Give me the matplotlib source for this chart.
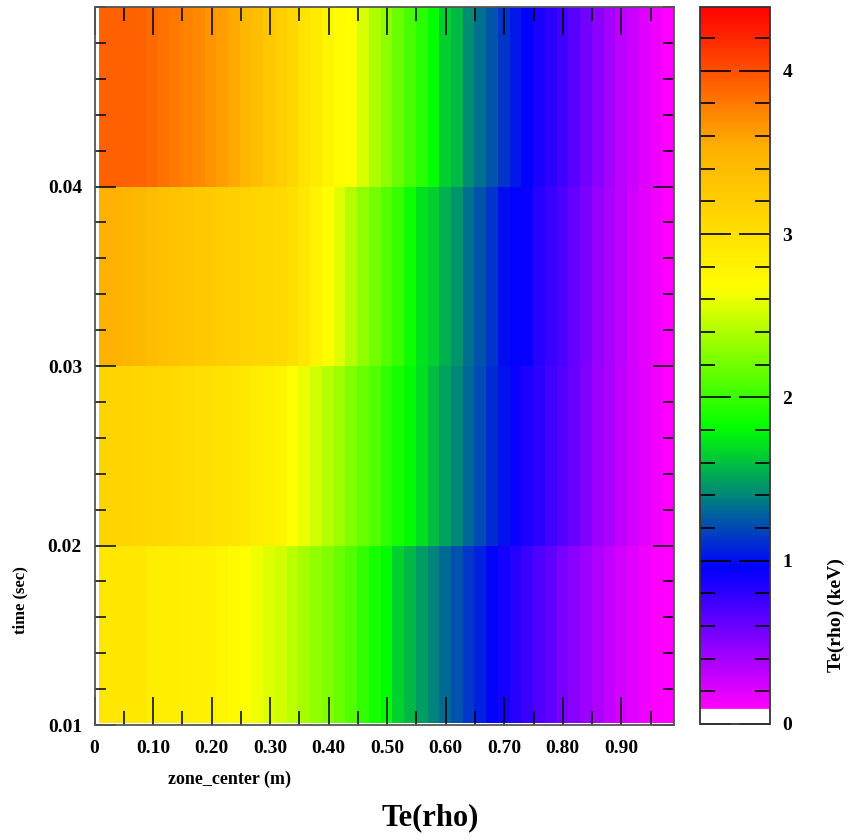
import numpy as np
import matplotlib
matplotlib.use("Agg")
import matplotlib.pyplot as plt
from matplotlib.colors import LinearSegmentedColormap, Normalize
from matplotlib.ticker import MultipleLocator, FuncFormatter

plt.rcParams['font.family'] = ['Liberation Serif', 'DejaVu Serif']
plt.rcParams['font.weight'] = 'bold'

# ---- data ----
zone_edges = np.linspace(0.0075, 0.99, 50)   # 50 edges -> 49 zones
time_edges = [0.0101, 0.02, 0.03, 0.04, 0.05]

te_t1 = [2.93, 2.93, 2.93, 2.93, 2.87, 2.86, 2.86, 2.85, 2.82, 2.81, 2.78, 2.73, 2.68,
         2.62, 2.56, 2.51, 2.44, 2.37, 2.30, 2.24, 2.17, 2.09, 1.98, 1.88, 1.81, 1.66,
         1.57, 1.48, 1.40, 1.31, 1.23, 1.14, 1.06, 0.97, 0.89, 0.83, 0.76, 0.69, 0.63,
         0.55, 0.49, 0.43, 0.37, 0.30, 0.24, 0.20, 0.15, 0.11, 0.10]
te_t2 = [3.14, 3.14, 3.13, 3.12, 3.11, 3.10, 3.06, 3.05, 3.03, 3.01, 2.99, 2.95, 2.92,
         2.88, 2.83, 2.78, 2.68, 2.60, 2.51, 2.42, 2.34, 2.25, 2.17, 2.09, 1.98, 1.88,
         1.80, 1.70, 1.59, 1.50, 1.41, 1.30, 1.20, 1.10, 1.01, 0.92, 0.86, 0.81, 0.74,
         0.67, 0.60, 0.52, 0.44, 0.38, 0.31, 0.25, 0.19, 0.14, 0.10]
te_t3 = [3.53, 3.52, 3.46, 3.44, 3.40, 3.36, 3.33, 3.29, 3.27, 3.24, 3.22, 3.19, 3.16,
         3.13, 3.11, 3.08, 3.03, 2.93, 2.79, 2.68, 2.56, 2.42, 2.30, 2.20, 2.10, 2.00,
         1.85, 1.72, 1.65, 1.55, 1.45, 1.33, 1.23, 1.13, 0.99, 0.96, 0.93, 0.83, 0.77,
         0.70, 0.62, 0.54, 0.45, 0.39, 0.32, 0.25, 0.19, 0.14, 0.10]
te_t4 = [3.92, 3.92, 3.92, 3.91, 3.87, 3.84, 3.80, 3.76, 3.72, 3.67, 3.62, 3.56, 3.47,
         3.38, 3.28, 3.20, 3.12, 2.97, 2.90, 2.78, 2.71, 2.67, 2.54, 2.40, 2.29, 2.17,
         2.05, 1.95, 1.82, 1.65, 1.58, 1.43, 1.33, 1.24, 1.13, 1.03, 0.96, 0.86, 0.81,
         0.74, 0.66, 0.57, 0.49, 0.40, 0.33, 0.27, 0.20, 0.15, 0.10]

x_ticks = [0.0, 0.1, 0.2, 0.3, 0.4, 0.5, 0.6, 0.7, 0.8, 0.9]
y_ticks = [0.01, 0.02, 0.03, 0.04]
cbar_ticks = [0, 1, 2, 3, 4]
vmin, vmax = 0.0, 4.39

# ---- colormap: white below ~0.1, magenta -> blue -> green -> yellow -> orange -> red ----
lo = 0.095 / vmax
step = (1 - lo) / 5
cmap = LinearSegmentedColormap.from_list('te', [
    (0.0, (1, 1, 1)),
    (lo - 0.001, (1, 1, 1)),
    (lo, (1, 0, 1)),
    (lo + step, (0, 0, 1)),
    (lo + 2 * step, (0, 1, 0)),
    (lo + 3 * step, (1, 1, 0)),
    (lo + 4 * step, (1, 0.69, 0)),
    (1.0, (1, 0, 0)),
], N=4096)

W, H = 850, 840
fig = plt.figure(figsize=(W / 100, H / 100), dpi=100)
ax = fig.add_axes([94.5 / W, 1 - 725 / H, 579.5 / W, 718 / H])
cax = fig.add_axes([700 / W, 1 - 724 / H, 70 / W, 717 / H])

Z = np.array([te_t1, te_t2, te_t3, te_t4])
mesh = ax.pcolormesh(zone_edges, time_edges, Z, cmap=cmap,
                     norm=Normalize(vmin, vmax), shading='flat',
                     edgecolors='none', antialiased=False)
ax.set_xlim(0, 0.99)
ax.set_ylim(0.01, 0.05)

ax.set_xticks(x_ticks)
ax.xaxis.set_minor_locator(MultipleLocator(0.05))
ax.xaxis.set_major_formatter(FuncFormatter(lambda v, p: '0' if abs(v) < 1e-9 else f'{v:.2f}'))
ax.set_yticks(y_ticks)
ax.yaxis.set_minor_locator(MultipleLocator(0.002))
ax.yaxis.set_major_formatter(FuncFormatter(lambda v, p: f'{v:.2f}'))

ax.tick_params(axis='x', which='major', direction='in', length=20, width=1.1,
               top=True, bottom=True, pad=11, labelsize=14, colors='black')
ax.tick_params(axis='x', which='minor', direction='in', length=10, width=1.1,
               top=True, bottom=True)
ax.tick_params(axis='y', which='major', direction='in', length=15, width=1.1,
               left=True, right=True, pad=9, labelsize=14)
ax.tick_params(axis='y', which='minor', direction='in', length=8, width=1.1,
               left=True, right=True)
for lab in ax.get_xticklabels() + ax.get_yticklabels():
    lab.set_fontweight('bold')
for s in ax.spines.values():
    s.set_color('#555555')
    s.set_linewidth(1.3)

cb = fig.colorbar(mesh, cax=cax, ticks=cbar_ticks)
cb.outline.set_edgecolor('#333333')
cb.outline.set_linewidth(1.3)
cax.yaxis.set_minor_locator(MultipleLocator(0.2))
cax.tick_params(which='major', direction='in', length=22, width=1.2,
                left=True, right=True, labelsize=14, pad=9)
cax.tick_params(which='minor', direction='in', length=11, width=1.2,
                left=True, right=True)
for lab in cax.get_yticklabels():
    lab.set_fontweight('bold')

fig.text(20 / W, 1 - 600 / H, 'time (sec)', rotation=90, ha='center', va='center',
         fontsize=12, fontweight='bold')
fig.text(230 / W, 1 - 779 / H, 'zone_center (m)', ha='center', va='center',
         fontsize=13, fontweight='bold')
fig.text(836 / W, 1 - 615 / H, 'Te(rho) (keV)', rotation=90, ha='center', va='center',
         fontsize=14, fontweight='bold')
fig.text(430 / W, 1 - 818 / H, 'Te(rho)', ha='center', va='center',
         fontsize=22, fontweight='bold')

fig.savefig('out.png', dpi=100)
